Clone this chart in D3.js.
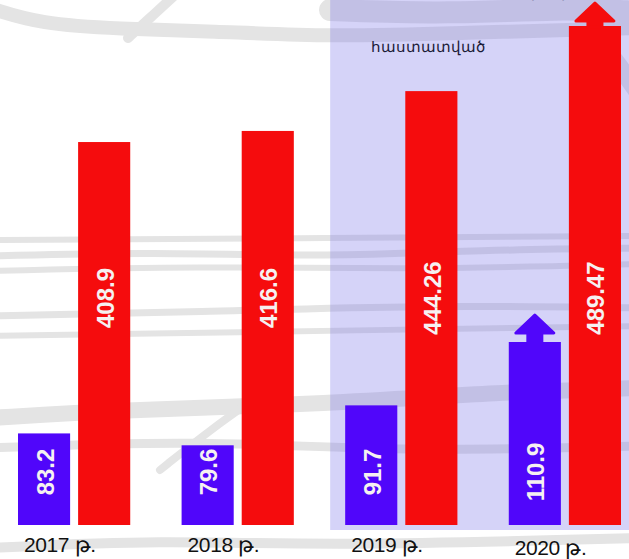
<!DOCTYPE html>
<html>
<head>
<meta charset="utf-8">
<script src="https://d3js.org/d3.v7.min.js"></script>
<style>
  body { margin: 0; background: #fff; }
  svg { display: block; }
</style>
</head>
<body>
<svg id="chart" width="629" height="559"></svg>
<script>
// data
var years = ["2017", "2018", "2019", "2020"];
var yearLabels = ["2017 թ.", "2018 թ.", "2019 թ.", "2020 թ."];
var blueValues = [83.2, 79.6, 91.7, 110.9];
var redValues = [408.9, 416.6, 444.26, 489.47];
var confirmedLabel = "հաստատված";
var forecastLabel = "կանխատեսում";
var forecastYears = ["2019", "2020"];   // shaded block
var arrowYears = ["2020"];              // bars with up arrows

// background brush strokes (decoration only)
var strokes = [
  {w: 14, pts: [[-10, 8], [40, 24], [120, 29], [210, 31], [330, 37], [460, 33], [640, 28]]},
  {w: 10, pts: [[128, 38], [150, 18], [175, -5]]},
  {w: 22, pts: [[330, 10], [450, 14], [560, 8], [640, 12]]},
  {w: 18, pts: [[590, 30], [615, 60], [640, 95]]},
  {w: 7, pts: [[-10, 256], [150, 252], [330, 257], [480, 250], [640, 248]]},
  {w: 6, pts: [[-10, 271], [200, 266], [400, 270], [640, 264]]},
  {w: 6, pts: [[-10, 240], [330, 238], [640, 236]]},
  {w: 7, pts: [[-10, 316], [200, 312], [420, 305], [640, 308]]},
  {w: 6, pts: [[-10, 336], [250, 332], [640, 326]]},
  {w: 16, pts: [[-10, 418], [120, 410], [330, 404], [500, 392], [640, 388]]},
  {w: 9, pts: [[-10, 448], [200, 440], [400, 452], [640, 446]]},
  {w: 8, pts: [[160, 470], [210, 430], [260, 395]]},
  {w: 10, pts: [[-10, 548], [160, 540], [330, 546], [640, 538]]}
];

var svg = d3.select("#chart"),
    width = +svg.attr("width"),
    height = +svg.attr("height");

var base = 525;

// scales
var x0 = d3.scaleBand().domain(years).range([18, 621]).paddingInner(0.314);
var x1 = d3.scaleBand().domain(["blue", "red"]).range([0, x0.bandwidth()]).paddingInner(0.133);
var yBlue = d3.scaleLinear().domain([55.45, 110.9]).range([base, 342]);
var yRed = d3.scaleLinear().domain([143, 489.47]).range([base, 26]);

var series = [
  {key: "blue", values: blueValues, y: yBlue, color: "#5006fa", labelY: 472, arrowGap: 9},
  {key: "red", values: redValues, y: yRed, color: "#f50c0d", labelY: 298, arrowGap: 5}
];

// background texture
var line = d3.line().curve(d3.curveBasis);
svg.append("g")
  .selectAll("path")
  .data(strokes)
  .enter().append("path")
  .attr("d", function(d) { return line(d.pts); })
  .attr("fill", "none")
  .attr("stroke", "#e4e4e4")
  .attr("stroke-width", function(d) { return d.w; })
  .attr("stroke-linecap", "round");

// forecast shading
var shadeX = x0(forecastYears[0]) - 15;
svg.append("rect")
  .attr("x", shadeX)
  .attr("y", 0)
  .attr("width", width - shadeX)
  .attr("height", 530)
  .attr("fill", "rgb(124,118,234)")
  .attr("fill-opacity", 0.32);

var groups = svg.append("g")
  .selectAll("g")
  .data(years)
  .enter().append("g")
  .attr("transform", function(d) { return "translate(" + x0(d) + ",0)"; });

series.forEach(function(s) {
  var bw = x1.bandwidth();
  groups.append("rect")
    .attr("x", x1(s.key))
    .attr("y", function(d, i) { return s.y(s.values[i]); })
    .attr("width", bw)
    .attr("height", function(d, i) { return base - s.y(s.values[i]); })
    .attr("fill", s.color);

  groups.append("text")
    .attr("transform", function(d, i) {
      return "translate(" + (x1(s.key) + bw / 2 + 1) + "," + s.labelY + ") rotate(-90)";
    })
    .attr("text-anchor", "middle")
    .attr("dominant-baseline", "central")
    .attr("fill", "#f6f1f1")
    .style("font", "bold 24px 'Liberation Sans', Arial, sans-serif")
    .text(function(d, i) { return s.values[i]; });

  // up arrows on the last year
  groups.filter(function(d) { return arrowYears.indexOf(d) >= 0; })
    .append("path")
    .attr("d", function(d) {
      var i = years.indexOf(d);
      var cx = x1(s.key) + bw / 2;
      var top = s.y(s.values[i]);
      var b = top - s.arrowGap, h = 18, hw = 19, sw = 7;
      return "M" + (cx - sw) + "," + (top + 1) + "V" + b + "H" + (cx - hw) +
             "L" + cx + "," + (b - h) + "L" + (cx + hw) + "," + b +
             "H" + (cx + sw) + "V" + (top + 1) + "Z";
    })
    .attr("fill", s.color)
    .attr("stroke", s.color)
    .attr("stroke-width", 3)
    .attr("stroke-linejoin", "round");
});

// year labels
groups.append("text")
  .attr("x", 6)
  .attr("y", function(d, i) { return i === 3 ? 555 : 552; })
  .attr("fill", "#111")
  .style("font", "21px 'Liberation Sans', Arial, sans-serif")
  .style("letter-spacing", "-0.4px")
  .text(function(d, i) { return yearLabels[i]; });

// annotations
svg.append("text")
  .attr("x", 428)
  .attr("y", 52)
  .attr("text-anchor", "middle")
  .attr("fill", "#1c1c38")
  .style("font", "15px 'Liberation Sans', Arial, sans-serif")
  .text(confirmedLabel);

svg.append("text")
  .attr("x", 590)
  .attr("y", -3)
  .attr("text-anchor", "middle")
  .attr("fill", "#1c1c38")
  .style("font", "16px 'Liberation Sans', Arial, sans-serif")
  .text(forecastLabel);
</script>
</body>
</html>
